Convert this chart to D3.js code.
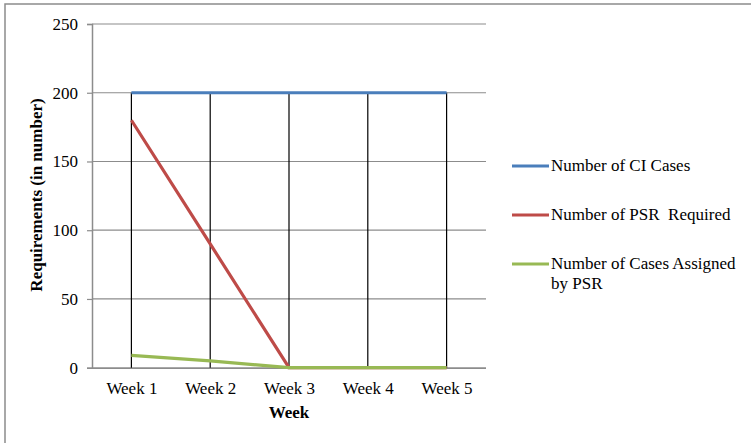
<!DOCTYPE html>
<html><head><meta charset="utf-8">
<script src="https://cdn.jsdelivr.net/npm/d3@7"></script>
<style>body{margin:0;background:#fff}svg{display:block}svg text{font-family:"Times New Roman","Liberation Serif",serif !important;fill:#000}</style>
</head><body>
<script>
const categories = ["Week 1","Week 2","Week 3","Week 4","Week 5"];
const ciCases = [200,200,200,200,200];
const psrRequired = [180,90,0,0,0];
const casesAssigned = [9,5,0,0,0];
const yTicks = [0,50,100,150,200,250];
const seriesNames = ["Number of CI Cases","Number of PSR  Required","Number of Cases Assigned|by PSR"];
const seriesColors = ["#4a7ebb","#be4b48","#98b954"];

const W=751,H=443;
const svg=d3.select("body").append("svg").attr("width",W).attr("height",H);
svg.append("rect").attr("x",5).attr("y",4).attr("width",W+10).attr("height",H+10)
  .attr("fill","#fff").attr("stroke","#8c8c8c").attr("stroke-width",1.5);

const L=92,R=486,T=24,B=367.7;
const x=d3.scalePoint().domain(categories).range([L,R]).padding(0.5);
const y=d3.scaleLinear().domain([0,250]).range([B,T]);

// gridlines
svg.append("g").selectAll("line").data(yTicks.filter(d=>d>0)).join("line")
  .attr("x1",L).attr("x2",R).attr("y1",d=>y(d)).attr("y2",d=>y(d))
  .attr("stroke","#8c8c8c").attr("stroke-width",1.2);

// y axis
const ya=svg.append("g").attr("transform",`translate(${L},0)`)
  .call(d3.axisLeft(y).tickValues(yTicks).tickSize(5).tickPadding(9));
ya.attr("font-size",null).attr("font-family",null);
ya.select(".domain").attr("stroke","#8c8c8c").attr("stroke-width",1.5);
ya.selectAll(".tick line").attr("stroke","#8c8c8c").attr("stroke-width",1.2);
ya.selectAll("text").style("font-size","17px");

// x axis
const xa=svg.append("g").attr("transform",`translate(0,${B})`)
  .call(d3.axisBottom(x).tickSize(0).tickPadding(14));
xa.attr("font-size",null).attr("font-family",null);
xa.select(".domain").attr("stroke","#8c8c8c").attr("stroke-width",1.8).attr("d",`M${L},0.5H${R}`);
xa.selectAll("text").style("font-size","17px");

// drop lines
const all=[ciCases,psrRequired,casesAssigned];
svg.append("g").selectAll("line").data(categories).join("line")
  .attr("x1",d=>x(d)).attr("x2",d=>x(d))
  .attr("y1",(d,i)=>y(d3.max(all,s=>s[i]))).attr("y2",B)
  .attr("stroke","#000").attr("stroke-width",1.2);

const line=d3.line().x((d,i)=>x(categories[i])).y(d=>y(d));
all.forEach((s,k)=>{
  svg.append("path").datum(s).attr("d",line).attr("fill","none")
    .attr("stroke",seriesColors[k]).attr("stroke-width",3.2);
});

// axis titles
svg.append("text").attr("x",x("Week 3")).attr("y",418).attr("text-anchor","middle")
  .style("font-size","17px").style("font-weight","bold").text("Week");
svg.append("text").attr("transform",`translate(42,195) rotate(-90)`).attr("text-anchor","middle")
  .style("font-size","17px").style("font-weight","bold").text("Requirements (in number)");

// legend
const ly=[166,215,264];
seriesNames.forEach((n,k)=>{
  svg.append("line").attr("x1",512).attr("x2",549).attr("y1",ly[k]).attr("y2",ly[k])
    .attr("stroke",seriesColors[k]).attr("stroke-width",3.2);
  n.split("|").forEach((t,j)=>{
    svg.append("text").attr("x",551).attr("y",ly[k]+5+j*20).style("font-size","17px")
      .style("white-space","pre").text(t);
  });
});
</script>
</body></html>
